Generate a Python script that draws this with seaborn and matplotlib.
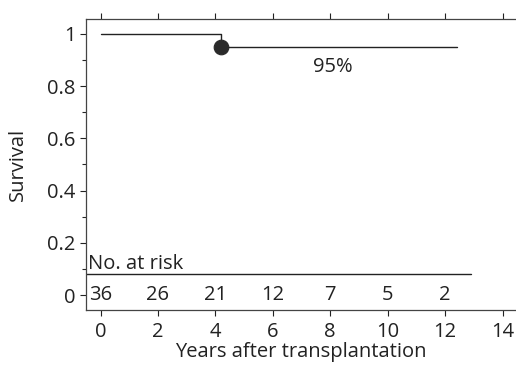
import seaborn as sns
import pandas as pd
import matplotlib.pyplot as plt
from matplotlib.ticker import MultipleLocator

# Kaplan-Meier curve
times = [0, 4.2, 12.4]
survival = [1.0, 0.95, 0.95]
event_times = [4.2]
event_survival = [0.95]

# number at risk table
risk_years = [0, 2, 4, 6, 8, 10, 12]
risk_counts = [36, 26, 21, 12, 7, 5, 2]

sns.set_style("ticks")
plt.rcParams['font.family'] = ['Open Sans', 'DejaVu Sans']

curve = pd.DataFrame({"Years": times, "Survival": survival})
events = pd.DataFrame({"Years": event_times, "Survival": event_survival})

fs = 14.5
ink = "#222222"

fig = plt.figure(figsize=(5.16, 3.65), dpi=100)
ax = fig.add_axes([0.167, 0.151, 0.833, 0.797])

sns.lineplot(x="Years", y="Survival", data=curve, drawstyle="steps-post",
             color=ink, linewidth=1.0, ax=ax)
sns.scatterplot(x="Years", y="Survival", data=events, color="#2a2a2a",
                s=110, edgecolor="#2a2a2a", legend=False, ax=ax, zorder=3)

ax.text(8.1, 0.875, "95%", ha="center", va="center", fontsize=fs, color=ink)

# risk table
ax.plot([-0.5, 12.9], [0.08, 0.08], color=ink, linewidth=1.0)
ax.text(-0.45, 0.12, "No. at risk", ha="left", va="center", fontsize=fs, color=ink)
for yr, n in zip(risk_years, risk_counts):
    ax.text(yr, 0.0, str(n), ha="center", va="center", fontsize=fs, color=ink)

ax.set_xlim(-0.5, 14.47)
ax.set_ylim(-0.057, 1.057)
ax.set_xticks(range(0, 15, 2))
ax.set_yticks([0, 0.2, 0.4, 0.6, 0.8, 1])
ax.set_yticklabels(["0", "0.2", "0.4", "0.6", "0.8", "1"])
ax.yaxis.set_minor_locator(MultipleLocator(0.1))
ax.tick_params(axis="both", labelsize=fs, colors=ink, length=4, width=0.8)
ax.tick_params(axis="y", which="minor", length=3, width=0.8)
ax.tick_params(axis="x", top=True, labeltop=False, pad=5)

ax.spines["right"].set_visible(False)
for s in ["left", "top", "bottom"]:
    ax.spines[s].set_color("#444444")
    ax.spines[s].set_linewidth(0.9)

ax.set_xlabel("Years after transplantation", fontsize=fs, color=ink, labelpad=0)
ax.set_ylabel("Survival", fontsize=fs, color=ink, labelpad=14)

plt.savefig("out.png", dpi=100)
plt.close()
